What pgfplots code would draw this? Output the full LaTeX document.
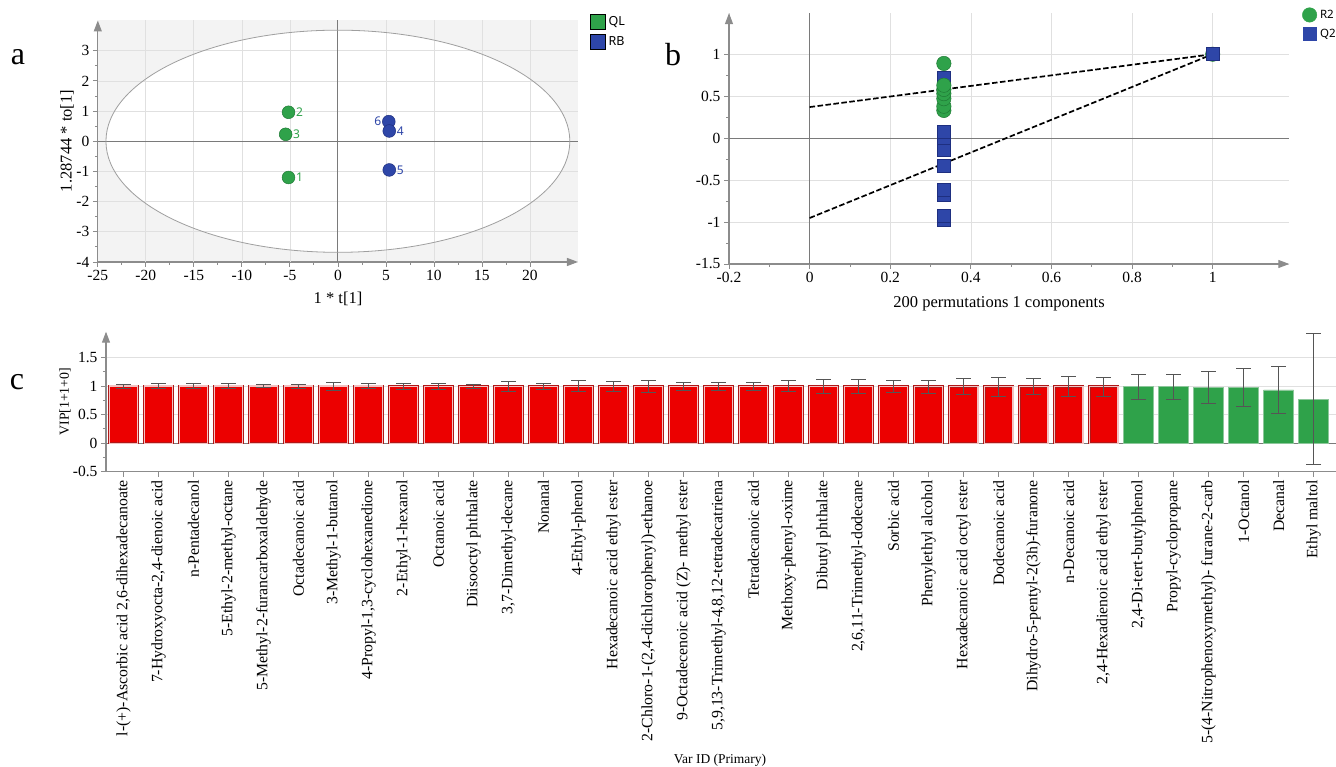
\documentclass[border=0pt]{standalone}
\usepackage{fontspec}
\setmainfont{Liberation Serif}
\newfontfamily\sansf{Noto Sans}
\usepackage{pgfplots}
\usepackage{pgfplotstable}
\pgfplotsset{compat=1.18}
\usetikzlibrary{arrows.meta}

\definecolor{qlg}{HTML}{2FA24A}
\definecolor{qlgd}{HTML}{1F7A35}
\definecolor{rbb}{HTML}{2E46A8}
\definecolor{rbbd}{HTML}{1E2F80}
\definecolor{barred}{HTML}{EC0000}
\definecolor{barredd}{HTML}{B01818}
\definecolor{barpink}{HTML}{F2C2C2}
\definecolor{bargreen}{HTML}{2FA24A}
\definecolor{bargreenl}{HTML}{8CC79A}
\definecolor{axgray}{HTML}{8C8C8C}
\definecolor{zgray}{HTML}{7A7A7A}
\definecolor{gridg}{HTML}{E0E0E0}
\definecolor{bggray}{HTML}{F3F3F3}
\definecolor{errgray}{HTML}{555555}

\pgfplotstableread{
x vip err
0 1.000 0.035
1 1.000 0.050
2 1.000 0.045
3 1.000 0.045
4 1.000 0.025
5 1.000 0.035
6 1.000 0.070
7 1.000 0.045
8 0.995 0.050
9 0.995 0.050
10 0.995 0.040
11 0.995 0.090
12 0.995 0.050
13 0.995 0.095
14 0.995 0.090
15 0.995 0.100
16 0.995 0.065
17 0.995 0.075
18 0.995 0.070
19 0.995 0.095
20 0.995 0.120
21 0.995 0.125
22 0.995 0.100
23 0.990 0.115
24 0.990 0.145
25 0.990 0.165
26 0.990 0.145
27 0.990 0.175
28 0.990 0.165
}\redvip

\pgfplotstableread{
x vip err
29 0.985 0.220
30 0.985 0.215
31 0.975 0.285
32 0.970 0.330
33 0.930 0.410
34 0.770 1.150
}\greenvip

\pgfplotsset{
 basestyle/.style={
  scale only axis, axis lines=left,
  axis line style={draw=axgray, line width=1.1pt, -{Triangle[length=11pt,width=8pt]}},
  tick style={draw=axgray, line width=0.8pt},
  major tick length=5pt, minor tick length=3pt, tick align=outside,
  tick label style={font=\fontsize{15.5}{16}\selectfont},
  /pgf/number format/assume math mode=true,
  grid style={draw=gridg, line width=0.7pt},
 }
}

\begin{document}
\begin{tikzpicture}
\useasboundingbox (0pt,0pt) rectangle (1336pt,767pt);

\node[font=\fontsize{32}{32}\selectfont] at (18pt,710pt) {a};
\node[font=\fontsize{32}{32}\selectfont] at (673pt,712pt) {b};
\node[font=\fontsize{32}{32}\selectfont] at (17pt,385pt) {c};

% ---------------- panel a ----------------
\begin{axis}[basestyle,
 at={(97.8pt,505pt)}, anchor=south west, width=480.2pt, height=241.5pt,
 xmin=-25, xmax=25, ymin=-4, ymax=4,
 xtick={-25,-20,...,20}, ytick={-4,-3,...,3},
 minor x tick num=1, minor y tick num=1,
 axis background/.style={fill=bggray},
 unbounded coords=jump,
 xlabel={1 * t[1]}, ylabel={1.28744 * to[1]},
 xlabel style={at={(axis description cs:0.5002,-0.153)}, anchor=center, font=\fontsize{16.5}{17}\selectfont},
 ylabel style={at={(axis description cs:-0.0641,0.501)}, anchor=center, font=\fontsize{16.5}{17}\selectfont},
 legend image code/.code={\fill[#1] (0pt,-7.5pt) rectangle (15pt,7.5pt);},
 legend style={at={(axis description cs:1.025,1.0257)}, anchor=north west, draw=none, fill=none,
   inner sep=0pt, row sep=4pt, column sep=2pt, font=\sansf\fontsize{12.5}{13}\selectfont,
   nodes={inner sep=1pt}},
 legend cell align=left,
]
\fill[white] (axis cs:0,0) ellipse [x radius=24.15, y radius=3.68];
\addplot[gridg, line width=0.7pt, forget plot] coordinates {
(-20,-4) (-20,4) (nan,nan) (-15,-4) (-15,4) (nan,nan) (-10,-4) (-10,4) (nan,nan)
(-5,-4) (-5,4) (nan,nan) (5,-4) (5,4) (nan,nan) (10,-4) (10,4) (nan,nan)
(15,-4) (15,4) (nan,nan) (20,-4) (20,4) (nan,nan)
(-25,3) (25,3) (nan,nan) (-25,2) (25,2) (nan,nan) (-25,1) (25,1) (nan,nan)
(-25,-1) (25,-1) (nan,nan) (-25,-2) (25,-2) (nan,nan) (-25,-3) (25,-3)};
\addplot[zgray, line width=1.1pt, forget plot] coordinates {(0,-4) (0,4)};
\addplot[zgray, line width=1.1pt, forget plot] coordinates {(-25,0) (25,0)};
\draw[gray!75, line width=0.8pt] (axis cs:0,0) ellipse [x radius=24.15, y radius=3.68];
\addplot[only marks, mark=*, mark size=6.4pt, mark options={fill=qlg, draw=qlgd, line width=0.5pt},
  forget plot, nodes near coords, point meta=explicit symbolic,
  every node near coord/.append style={anchor=west, xshift=4pt, font=\sansf\fontsize{12}{12}\selectfont, text=qlg}]
  table[x=x, y=y, meta=l] {
x y l
-5.14 -1.20 1
-5.14 0.96 2
-5.44 0.23 3
};
\addplot[only marks, mark=*, mark size=6.4pt, mark options={fill=rbb, draw=rbbd, line width=0.5pt},
  forget plot, nodes near coords, point meta=explicit symbolic,
  every node near coord/.append style={anchor=east, xshift=-4pt, font=\sansf\fontsize{12}{12}\selectfont, text=rbb}]
  table[x=x, y=y, meta=l] {
x y l
5.30 0.65 6
};
\addplot[only marks, mark=*, mark size=6.4pt, mark options={fill=rbb, draw=rbbd, line width=0.5pt},
  forget plot, nodes near coords, point meta=explicit symbolic,
  every node near coord/.append style={anchor=west, xshift=4pt, font=\sansf\fontsize{12}{12}\selectfont, text=rbb}]
  table[x=x, y=y, meta=l] {
x y l
5.35 0.34 4
5.35 -0.95 5
};
\addlegendimage{fill=qlg}
\addlegendentry{QL}
\addlegendimage{fill=rbb}
\addlegendentry{RB}
\end{axis}

% ---------------- panel b ----------------
\begin{axis}[basestyle,
 at={(729pt,503pt)}, anchor=south west, width=560.3pt, height=250.9pt,
 xmin=-0.2, xmax=1.19, ymin=-1.5, ymax=1.49,
 xtick={-0.2,0,0.2,0.4,0.6,0.8,1}, ytick={-1.5,-1,-0.5,0,0.5,1},
 minor x tick num=1, minor y tick num=1,
 grid=major,
 xlabel={200 permutations 1 components},
 xlabel style={at={(axis description cs:0.482,-0.159)}, anchor=center, font=\fontsize{16.5}{17}\selectfont},
 legend style={at={(axis description cs:1.0226,1.0231)}, anchor=north west, draw=none, fill=none,
   inner sep=0pt, row sep=5pt, column sep=2pt, font=\sansf\fontsize{11.5}{12}\selectfont,
   nodes={inner sep=1pt}},
 legend cell align=left,
]
\addplot[zgray, line width=1.1pt, forget plot] coordinates {(0,-1.5) (0,1.49)};
\addplot[zgray, line width=1.1pt, forget plot] coordinates {(-0.2,0) (1.19,0)};
\addplot[black, line width=1.7pt, dash pattern=on 5.5pt off 2.5pt, forget plot] coordinates {(0,0.37) (1,1)};
\addplot[black, line width=1.7pt, dash pattern=on 5.5pt off 2.5pt, forget plot] coordinates {(0,-0.952) (1,1)};
\addplot[only marks, mark=square*, mark size=6.5pt, mark options={fill=rbb, draw=rbbd, line width=0.5pt}, forget plot]
  coordinates {(0.333,-0.97) (0.333,-0.92) (0.333,-0.68) (0.333,-0.61) (0.333,-0.33) (0.333,-0.14) (0.333,0.01) (0.333,0.08) (0.333,0.72)};
\addplot[only marks, mark=*, mark size=7.2pt, mark options={fill=qlg, draw=qlgd, line width=0.5pt}, forget plot]
  coordinates {(0.333,0.33) (0.333,0.38) (0.333,0.47) (0.333,0.53) (0.333,0.58) (0.333,0.63) (0.333,0.89) (1,1)};
\addplot[only marks, mark=square*, mark size=6.5pt, mark options={fill=rbb, draw=rbbd, line width=0.5pt}, forget plot]
  coordinates {(1,1)};
\addlegendimage{legend image code/.code={\fill[qlg] (7.25pt,0pt) circle (7.25pt);}}
\addlegendentry{R2}
\addlegendimage{legend image code/.code={\fill[rbb] (0.75pt,-6.5pt) rectangle (13.75pt,6.5pt);}}
\addlegendentry{Q2}
\end{axis}

% ---------------- panel c ----------------
\begin{axis}[basestyle,
 at={(106pt,295.3pt)}, anchor=south west, width=1230pt, height=140pt,
 xmin=-0.5, xmax=34.64, ymin=-0.5, ymax=1.95,
 x axis line style={-},
 ybar, bar shift=0pt,
 xtick={0,1,...,34}, ytick={-0.5,0,0.5,1,1.5}, minor y tick num=1,
 ymajorgrids,
 xticklabels={{l-(+)-Ascorbic acid 2,6-dihexadecanoate},{7-Hydroxyocta-2,4-dienoic acid},{n-Pentadecanol},{5-Ethyl-2-methyl-octane},{5-Methyl-2-furancarboxaldehyde},{Octadecanoic acid},{3-Methyl-1-butanol},{4-Propyl-1,3-cyclohexanedione},{2-Ethyl-1-hexanol},{Octanoic acid},{Diisooctyl phthalate},{3,7-Dimethyl-decane},{Nonanal},{4-Ethyl-phenol},{Hexadecanoic acid ethyl ester},{2-Chloro-1-(2,4-dichlorophenyl)-ethanoe},{9-Octadecenoic acid (Z)- methyl ester},{5,9,13-Trimethyl-4,8,12-tetradecatriena},{Tetradecanoic acid},{Methoxy-phenyl-oxime},{Dibutyl phthalate},{2,6,11-Trimethyl-dodecane},{Sorbic acid},{Phenylethyl alcohol},{Hexadecanoic acid octyl ester},{Dodecanoic acid},{Dihydro-5-pentyl-2(3h)-furanone},{n-Decanoic acid},{2,4-Hexadienoic acid ethyl ester},{2,4-Di-tert-butylphenol},{Propyl-cyclopropane},{5-(4-Nitrophenoxymethyl)- furane-2-carb},{1-Octanol},{Decanal},{Ethyl maltol}},
 x tick label style={rotate=90, anchor=east, font=\fontsize{15.8}{16}\selectfont},
 xlabel={Var ID (Primary)}, ylabel={VIP[1+1+0]},
 xlabel style={at={(axis description cs:0.4992,-2.059)}, anchor=center, font=\fontsize{13.5}{14}\selectfont},
 ylabel style={at={(axis description cs:-0.0333,0.5)}, anchor=center, font=\fontsize{13.8}{14}\selectfont},
]
\addplot[sharp plot, zgray, line width=1.1pt, forget plot] coordinates {(-0.5,0) (34.64,0)};
\addplot[bar width=28.6pt, fill=barred, draw=barredd, line width=0.6pt, double=barpink, double distance=1.2pt]
  table[x=x, y=vip] {\redvip};
\addplot[bar width=30.2pt, fill=bargreen, draw=bargreenl, line width=0.8pt]
  table[x=x, y=vip] {\greenvip};
\addplot[draw=none, fill=none, forget plot,
  error bars/.cd, y dir=both, y explicit,
  error bar style={draw=errgray, line width=0.7pt},
  error mark options={rotate=90, draw=errgray, line width=0.7pt, mark size=7.5pt}]
  table[x=x, y=vip, y error=err] {\redvip};
\addplot[draw=none, fill=none, forget plot,
  error bars/.cd, y dir=both, y explicit,
  error bar style={draw=errgray, line width=0.7pt},
  error mark options={rotate=90, draw=errgray, line width=0.7pt, mark size=7.5pt}]
  table[x=x, y=vip, y error=err] {\greenvip};
\end{axis}
\end{tikzpicture}
\end{document}
